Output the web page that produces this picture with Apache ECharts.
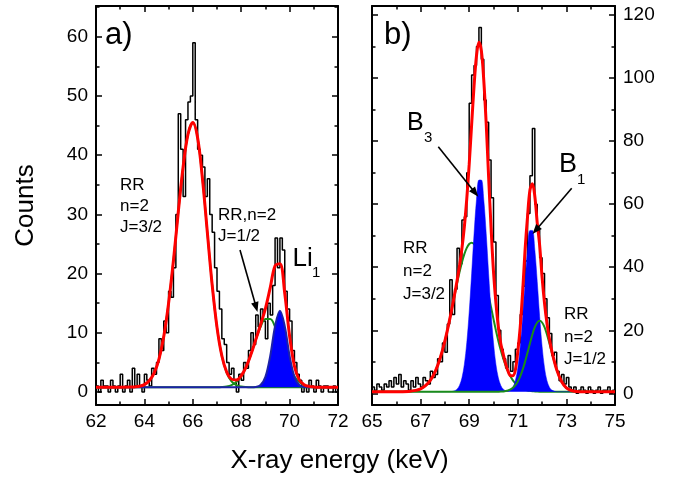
<!DOCTYPE html>
<html>
<head>
<meta charset="utf-8">
<script src="https://cdn.jsdelivr.net/npm/echarts@6/dist/echarts.min.js"></script>
<style>html,body{margin:0;padding:0;background:#fff;}#c{width:676px;height:478px;}</style>
</head>
<body>
<div id="c"></div>
<script>
// ---------- Panel a) : measured histogram (0.1 keV bins starting at 62.0) ----------
const histStartA = 62.0;
const binWidth = 0.1;
const countsA = [
  1,0,2,1,1,0,2,1,0,1,
  3,0,1,2,0,4,1,3,1,0,
  3,2,1,4,3,5,9,7,12,10,
  17,16,21,30,47,41,33,46,49,50,
  59,46,41,40,38,33,36,30,27,21,
  17,14,9,8,5,3,4,2,0,3,
  2,5,4,7,10,8,13,11,14,12,
  9,15,13,18,26,21,26,24,17,14,
  12,7,5,3,2,0,1,0,2,1,
  0,2,1,0,1,1,0,0,1,0
];
// fit curves (panel a)
const fitXA = [62.0,62.5,63.0,63.4,63.6,63.8,64.0,64.2,64.4,64.6,64.8,65.0,65.2,65.4,65.6,65.8,66.0,66.2,66.4,66.6,66.8,67.0,67.2,67.4,67.6,67.8,68.0,68.2,68.4,68.6,68.8,69.0,69.2,69.4,69.6,69.8,70.0,70.2,70.4,70.6,70.8,71.0,71.2,71.6,72.0];
const rrJ32A = [0.8,0.8,0.8,0.82,0.86,0.97,1.25,1.89,3.17,5.5,9.36,15.0,22.2,30.4,38.0,43.5,45.5,42.9,36.0,27.0,18.1,10.9,6.06,3.23,1.8,1.16,0.92,0.83,0.8,0.8,0.8,0.8,0.8,0.8,0.8,0.8,0.8,0.8,0.8,0.8,0.8,0.8,0.8,0.8,0.8];
const rrJ12A = [0.8,0.8,0.8,0.8,0.8,0.8,0.8,0.8,0.8,0.8,0.8,0.8,0.8,0.8,0.8,0.8,0.8,0.8,0.8,0.8,0.8,0.81,0.85,0.94,1.17,1.67,2.62,4.16,6.31,8.76,10.99,12.32,12.32,10.99,8.76,6.31,4.16,2.62,1.67,1.17,0.94,0.85,0.81,0.8,0.8];
const li1A = [0.8,0.8,0.8,0.8,0.8,0.8,0.8,0.8,0.8,0.8,0.8,0.8,0.8,0.8,0.8,0.8,0.8,0.8,0.8,0.8,0.8,0.8,0.8,0.8,0.8,0.8,0.8,0.8,0.8,0.85,1.17,2.55,6.10,11.13,13.7,11.13,6.10,2.55,1.17,0.85,0.8,0.8,0.8,0.8,0.8];
const totalA = [0.8,0.8,0.8,0.82,0.86,0.97,1.25,1.89,3.17,5.5,9.36,15.0,22.2,30.4,38.0,43.5,45.5,42.9,36.0,27.0,18.1,10.91,6.11,3.37,2.17,2.03,2.74,4.19,6.31,8.81,11.36,14.07,17.62,21.32,21.66,16.64,9.46,4.37,2.04,1.22,0.94,0.85,0.81,0.8,0.8];
const baseA = 0.8;

// ---------- Panel b) ----------
const histStartB = 65.0;
const countsB = [
  2,1,3,2,1,3,2,4,2,5,
  3,6,2,4,3,1,4,2,5,3,
  2,5,4,3,7,5,6,11,10,16,
  13,22,36,25,33,46,41,55,56,70,
  92,101,104,110,116,106,93,86,74,62,
  48,31,20,14,11,8,12,7,10,14,
  16,25,34,42,57,69,84,60,52,43,
  38,30,24,19,12,13,7,4,6,3,
  5,2,1,2,0,1,2,1,0,2,
  1,0,1,2,0,1,1,2,0,1
];
const fitXB = [65.0,65.5,66.0,66.5,66.8,67.0,67.2,67.4,67.6,67.8,68.0,68.2,
  68.4,68.5,68.6,68.7,68.8,68.9,69.0,69.1,69.2,69.3,69.4,69.5,69.6,69.7,69.8,69.9,70.0,70.1,70.2,70.3,70.4,70.5,70.6,70.7,70.8,70.9,71.0,71.1,71.2,71.3,71.4,71.5,71.6,71.7,71.8,71.9,72.0,72.1,72.2,72.3,72.4,
  72.6,72.8,73.0,73.2,73.4,73.7,74.0,74.5,75.0];
const rrJ32B = [0.5,0.5,0.5,0.62,0.93,1.44,2.41,4.12,6.90,11.03,16.63,23.53,
  31.10,34.85,38.37,41.53,44.16,46.14,47.38,47.8,47.38,46.14,44.16,41.53,38.37,34.85,31.10,27.28,23.53,19.95,16.63,13.65,11.03,8.79,6.90,5.36,4.12,3.15,2.41,1.85,1.44,1.14,0.93,0.78,0.68,0.62,0.57,0.54,0.53,0.51,0.5,0.5,0.5,
  0.5,0.5,0.5,0.5,0.5,0.5,0.5,0.5,0.5];
const kLinesB = [0.5,0.5,0.5,0.5,0.5,0.5,0.5,0.5,0.5,0.5,0.5,0.52,
  0.81,1.32,2.5,4.86,9.14,16.03,25.79,37.89,50.61,61.42,67.67,67.67,61.42,50.61,37.89,25.79,16.03,9.14,4.86,2.5,1.32,0.86,0.77,1.02,1.95,4.03,8.07,14.82,24.34,35.42,45.56,51.68,51.68,45.56,35.42,24.34,14.82,8.07,4.03,1.95,1.02,
  0.52,0.5,0.5,0.5,0.5,0.5,0.5,0.5,0.5];
const rrJ12B = [0.5,0.5,0.5,0.5,0.5,0.5,0.5,0.5,0.5,0.5,0.5,0.5,
  0.5,0.5,0.5,0.5,0.5,0.5,0.5,0.5,0.5,0.5,0.5,0.5,0.5,0.5,0.5,0.5,0.5,0.5,0.52,0.55,0.61,0.71,0.90,1.23,1.76,2.58,3.77,5.40,7.51,10.05,12.91,15.87,18.66,20.96,22.47,23.0,22.47,20.96,18.66,15.87,12.91,
  7.51,3.77,1.76,0.90,0.61,0.5,0.5,0.5,0.5];
const totalB = [0.5,0.5,0.5,0.62,0.93,1.44,2.41,4.12,6.90,11.03,16.63,23.55,
  31.41,35.67,40.37,45.89,52.80,61.67,72.67,85.19,97.49,107.06,111.33,108.70,99.29,85.46,68.49,52.57,38.56,28.59,21.03,15.70,12.46,9.36,7.0,5.6,5.6,7.4,13.25,21.07,32.29,45.61,56.0,64.5,66.5,62.5,54.0,46.88,36.79,28.53,22.19,17.32,13.43,
  7.51,3.77,1.76,0.90,0.61,0.5,0.5,0.5,0.5];
const baseB = 0.5;

// axis ticks
const ticksYA = [0,10,20,30,40,50,60];
const minorYA = [5,15,25,35,45,55,65];
const ticksYB = [0,20,40,60,80,100,120];
const minorYB = [10,30,50,70,90,110];

// ---------- helpers ----------
const FONT = '"Liberation Sans", Arial, Helvetica, sans-serif';
const BLACK = '#000';
const RED = '#ff0000', GREEN = '#1a8c1a', BLUE = '#0000ff', NAVY = '#1c22a8';

function hist(start, vals) {
  const d = vals.map((v, i) => [start + i * binWidth, v]);
  d.push([start + vals.length * binWidth, vals[vals.length - 1]]);
  return d;
}
function pairs(xs, ys) { return xs.map((x, i) => [x, ys[i]]); }

function xAx(grid, min, max, pos, labels) {
  return {
    type: 'value', gridIndex: grid, position: pos, min, max, interval: 2,
    axisLine: { show: true, onZero: false, lineStyle: { color: BLACK, width: 2 } },
    axisTick: { show: true, inside: true, length: 6, lineStyle: { color: BLACK, width: 1.5 } },
    minorTick: { show: true, splitNumber: 2, length: 3.5, lineStyle: { color: BLACK, width: 1.5 } },
    axisLabel: { show: labels, color: BLACK, fontSize: 19, fontFamily: FONT, margin: 7 },
    splitLine: { show: false }, minorSplitLine: { show: false }
  };
}
function yAxPair(grid, min, max, pos, major, minor, labels) {
  return [{
    type: 'value', gridIndex: grid, position: pos, min, max,
    axisLine: { show: true, onZero: false, lineStyle: { color: BLACK, width: 2 } },
    axisTick: { show: true, inside: true, length: 6, customValues: major, lineStyle: { color: BLACK, width: 1.5 } },
    axisLabel: { show: labels, customValues: major, color: BLACK, fontSize: 19, fontFamily: FONT, margin: 8 },
    splitLine: { show: false }
  }, {
    type: 'value', gridIndex: grid, position: pos, min, max,
    axisLine: { show: false, onZero: false },
    axisTick: { show: true, inside: true, length: 3.5, customValues: minor, lineStyle: { color: BLACK, width: 1.5 } },
    axisLabel: { show: false },
    splitLine: { show: false }
  }];
}

function T(text, x, base, size, extra) {
  return Object.assign({
    type: 'text', x: x, y: base - 0.35 * size, z: 100,
    style: { text: text, fill: BLACK, fontSize: size, fontFamily: FONT, align: 'left', verticalAlign: 'middle' }
  }, extra || {});
}
function arrow(x1, y1, x2, y2) {
  const a = Math.atan2(y2 - y1, x2 - x1), L = 10, W = 3.8;
  const c = Math.cos(a), s = Math.sin(a);
  const bx = x2 - L * c, by = y2 - L * s;
  return [
    { type: 'line', z: 100, shape: { x1, y1, x2: bx + 1 * c, y2: by + 1 * s }, style: { stroke: BLACK, lineWidth: 1.6 } },
    { type: 'polygon', z: 100, shape: { points: [[x2, y2], [bx - W * s, by + W * c], [bx + W * s, by - W * c]] }, style: { fill: BLACK } }
  ];
}

const fitLine = (name, xi, yi, data, color, width, z, extra) => Object.assign({
  name, type: 'line', xAxisIndex: xi, yAxisIndex: yi, data, showSymbol: false, symbol: 'none',
  smooth: 0.35, lineStyle: { color, width }, itemStyle: { color }, z, silent: true
}, extra || {});

const option = {
  animation: false,
  backgroundColor: '#ffffff',
  grid: [
    { left: 96, top: 6, width: 242, height: 399 },
    { left: 372, top: 6, width: 243, height: 399 }
  ],
  xAxis: [
    xAx(0, 62, 72, 'bottom', true),
    xAx(0, 62, 72, 'top', false),
    xAx(1, 65, 75, 'bottom', true),
    xAx(1, 65, 75, 'top', false)
  ],
  yAxis: [].concat(
    yAxPair(0, -2.2, 65.2, 'left', ticksYA, minorYA, true),
    yAxPair(0, -2.2, 65.2, 'right', ticksYA, minorYA, false),
    yAxPair(1, -3.7, 122.85, 'left', ticksYB, minorYB, false),
    yAxPair(1, -3.7, 122.85, 'right', ticksYB, minorYB, true)
  ),
  series: [
    // panel a
    { type: 'line', xAxisIndex: 0, yAxisIndex: 0, data: hist(histStartA, countsA), step: 'end', showSymbol: false, symbol: 'none',
      lineStyle: { color: BLACK, width: 1.5 }, z: 2, silent: true },
    fitLine('RR J=3/2 a', 0, 0, pairs(fitXA, rrJ32A), GREEN, 2, 3),
    fitLine('RR J=1/2 a', 0, 0, pairs(fitXA, rrJ12A), GREEN, 2, 3),
    fitLine('Li1', 0, 0, pairs(fitXA, li1A), NAVY, 2, 4, { areaStyle: { color: BLUE, opacity: 1, origin: baseA } }),
    fitLine('total a', 0, 0, pairs(fitXA, totalA), RED, 3, 6),
    // panel b
    { type: 'line', xAxisIndex: 2, yAxisIndex: 4, data: hist(histStartB, countsB), step: 'end', showSymbol: false, symbol: 'none',
      lineStyle: { color: BLACK, width: 1.5 }, z: 2, silent: true },
    fitLine('RR J=3/2 b', 2, 4, pairs(fitXB, rrJ32B), GREEN, 2, 3),
    fitLine('B lines', 2, 4, pairs(fitXB, kLinesB), BLUE, 0.5, 4, { areaStyle: { color: BLUE, opacity: 1, origin: baseB } }),
    fitLine('RR J=1/2 b', 2, 4, pairs(fitXB, rrJ12B), GREEN, 2, 5),
    fitLine('total b', 2, 4, pairs(fitXB, totalB), RED, 3, 6)
  ],
  graphic: [].concat(
    [
      T('Counts', 26, 205.5 , 26, { rotation: Math.PI / 2, style: { text: 'Counts', fill: BLACK, fontSize: 26, fontFamily: FONT, align: 'center', verticalAlign: 'middle' }, x: 26, y: 205.5 }),
      T('X-ray energy (keV)', 339.5, 470, 26, { style: { text: 'X-ray energy (keV)', fill: BLACK, fontSize: 26, fontFamily: FONT, align: 'center', verticalAlign: 'middle' } }),
      T('a)', 105, 46, 31),
      T('b)', 384, 46, 31),
      T('RR', 120, 191.7, 17), T('n=2', 120, 212.7, 17), T('J=3/2', 120, 233.5, 17),
      T('RR,n=2', 218, 221.7, 17), T('J=1/2', 218, 242.7, 17),
      T('Li', 292.5, 268.3, 26), T('1', 312, 278.5, 15),
      T('B', 407, 132, 25), T('3', 424, 143.3, 15),
      T('B', 559, 174, 27), T('1', 577, 185, 15),
      T('RR', 403, 254, 17), T('n=2', 403, 277, 17), T('J=3/2', 403, 300.5, 17),
      T('RR', 564, 320, 17), T('n=2', 564, 343.3, 17), T('J=1/2', 564, 365.7, 17)
    ],
    arrow(240, 250, 257.5, 312),
    arrow(438.3, 146.7, 478.3, 196.7),
    arrow(571.7, 188.3, 532.5, 234)
  )
};

const chart = echarts.init(document.getElementById('c'), null, { renderer: 'canvas' });
chart.setOption(option);
</script>
</body>
</html>
